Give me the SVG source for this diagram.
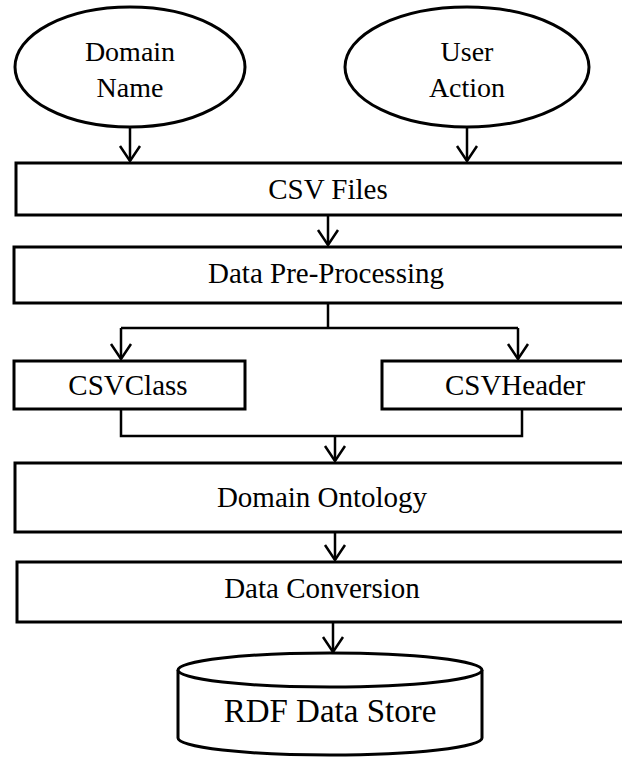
<svg xmlns="http://www.w3.org/2000/svg" width="622" height="758" viewBox="0 0 622 758">
<defs>
<style>
.s{fill:#fff;stroke:#000;stroke-width:3}
.c{fill:none;stroke:#000;stroke-width:2.5}
text{font-family:'Liberation Serif','DejaVu Serif',serif;font-size:29px;fill:#000;text-anchor:middle}
.e{font-size:28px}
.b{font-size:33px}
</style>
<marker id="a" markerWidth="20" markerHeight="24" refX="17" refY="12" orient="auto" markerUnits="userSpaceOnUse" viewBox="0 0 20 24">
<path d="M2,2 L17,12 L2,22" fill="none" stroke="#000" stroke-width="2.5"/>
</marker>
</defs>
<rect width="622" height="758" fill="#fff"/>
<g id="domain-name">
<ellipse class="s" cx="130" cy="67" rx="115" ry="60"/>
<text class="e" x="130" y="61">Domain</text>
<text class="e" x="130" y="97">Name</text>
</g>
<g id="user-action">
<ellipse class="s" cx="467" cy="67" rx="122" ry="60"/>
<text class="e" x="467" y="61">User</text>
<text class="e" x="467" y="97">Action</text>
</g>
<g id="csv-files">
<rect class="s" x="16" y="163" width="620" height="52"/>
<text x="328" y="199">CSV Files</text>
</g>
<g id="data-preprocessing">
<rect class="s" x="14" y="247" width="620" height="56"/>
<text x="326" y="283">Data Pre-Processing</text>
</g>
<g id="csvclass">
<rect class="s" x="14" y="361" width="231" height="48"/>
<text x="128" y="395">CSVClass</text>
</g>
<g id="csvheader">
<rect class="s" x="382" y="361" width="254" height="48"/>
<text x="515" y="395">CSVHeader</text>
</g>
<g id="domain-ontology">
<rect class="s" x="15" y="463" width="620" height="69"/>
<text x="322" y="507">Domain Ontology</text>
</g>
<g id="data-conversion">
<rect class="s" x="17" y="562" width="620" height="60"/>
<text x="322" y="598">Data Conversion</text>
</g>
<g id="rdf-data-store">
<path class="s" d="M178,670 L178,738 A152,17 0 0 0 482,738 L482,670"/>
<ellipse class="s" cx="330" cy="670" rx="152" ry="17"/>
<text class="b" x="330" y="722">RDF Data Store</text>
</g>
<g id="connectors">
<path class="c" d="M130,127 V161" marker-end="url(#a)"/>
<path class="c" d="M467,127 V161" marker-end="url(#a)"/>
<path class="c" d="M328,215 V245" marker-end="url(#a)"/>
<path class="c" d="M328,303 V328"/>
<path class="c" d="M121,328 H518"/>
<path class="c" d="M121,328 V359" marker-end="url(#a)"/>
<path class="c" d="M518,328 V359" marker-end="url(#a)"/>
<path class="c" d="M121,409 V436 H522 V409"/>
<path class="c" d="M335,436 V461" marker-end="url(#a)"/>
<path class="c" d="M335,532 V560" marker-end="url(#a)"/>
<path class="c" d="M333,622 V652" marker-end="url(#a)"/>
</g>
</svg>
